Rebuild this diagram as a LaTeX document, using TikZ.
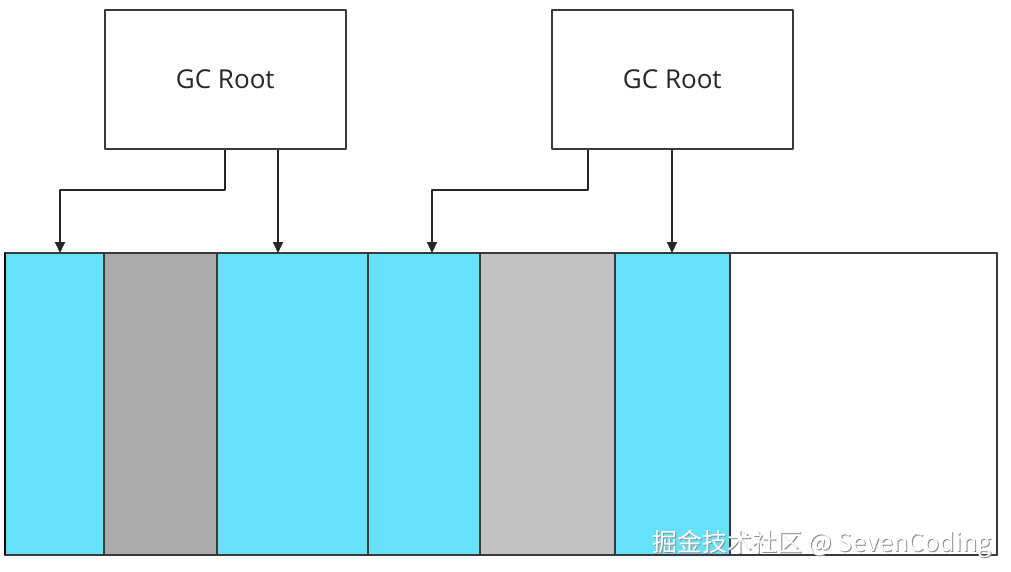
\documentclass[tikz,border=0pt]{standalone}
\usepackage{fontspec}
\setmainfont{Open Sans}
\newfontfamily\cjk{Noto Sans CJK SC}
\usetikzlibrary{arrows.meta}

\definecolor{liveblue}{HTML}{66E1FA}
\definecolor{deadgray}{HTML}{ABABAB}
\definecolor{freegray}{HTML}{C2C2C2}
\definecolor{edgegray}{HTML}{3A3A3A}

\begin{document}
\begin{tikzpicture}[
    x=1pt, y=-1pt,
    line join=round,
    rootbox/.style={draw=edgegray, line width=1.6pt, fill=white,
        minimum width=241pt, minimum height=139pt, inner sep=0pt,
        anchor=north west, font=\fontsize{26}{30}\selectfont, text=black!85},
    ref/.style={draw=black!85, line width=1.8pt,
        -{Triangle[width=10pt,length=11pt]}},
]
\useasboundingbox (0,0) rectangle (1011,571);

% 堆区参数
\def\heaptop{253}
\def\heapbot{555}

% ---- 堆中的对象块 ----
\foreach \a/\b/\c in {5/104/liveblue, 104/217/deadgray, 217/368/liveblue,
                      368/480/liveblue, 480/615/freegray, 615/730/liveblue,
                      730/997/white}
    \filldraw[fill=\c, draw=edgegray, line width=1.4pt] (\a,\heaptop) rectangle (\b,\heapbot);
\draw[edgegray, line width=1.6pt] (5,\heaptop) rectangle (997,\heapbot);
\draw[black, line width=2.4pt] (5,\heaptop) -- (5,\heapbot);

% ---- GC Root ----
\node[rootbox] (rootA) at (104,9) {GC Root};
\node[rootbox] (rootB) at (551,9) {GC Root};

% 引用目标
\coordinate (objA) at (60,\heaptop);
\coordinate (objB) at (278,\heaptop);
\coordinate (objC) at (432,\heaptop);
\coordinate (objD) at (672,\heaptop);

% ---- 引用箭头 ----
\draw[ref] (rootA.south) -- ++(0,40) -| (objA);
\draw[ref] (rootA.south -| objB) -- (objB);
\draw[ref] (rootB.south -| 588,0) -- ++(0,40) -| (objC);
\draw[ref] (rootB.south -| objD) -- (objD);

% 水印
\node[anchor=base east, font=\cjk\fontsize{25}{30}\selectfont, text=black!45]
    (markshadow) at (996,552) {掘金技术社区 @ SevenCoding};
\node[anchor=base east, font=\cjk\fontsize{25}{30}\selectfont, text=white]
    (mark) at (995,551) {掘金技术社区 @ SevenCoding};

\end{tikzpicture}
\end{document}
